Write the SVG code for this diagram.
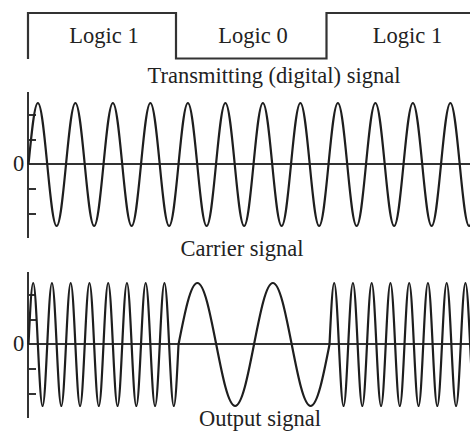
<svg xmlns="http://www.w3.org/2000/svg" width="470" height="434" viewBox="0 0 470 434">
<style>
.lbl{font-family:"Liberation Serif","Times New Roman",serif;font-size:22.5px;fill:#222;text-anchor:middle}
.wave{fill:none;stroke:#1e1e1e;stroke-width:2.2;stroke-linejoin:round}
.axis{fill:none;stroke:#333;stroke-width:2}
.tick{fill:none;stroke:#333;stroke-width:1.8}
.digital{fill:none;stroke:#333;stroke-width:2.2}
</style>
<rect width="470" height="434" fill="#fff"/>
<g id="digital-signal">
<path class="digital" d="M28,59 V13 H176 V58.5 H326.5 V13 H470"/>
<text class="lbl" x="104" y="43">Logic 1</text>
<text class="lbl" x="253" y="43">Logic 0</text>
<text class="lbl" x="407.5" y="43">Logic 1</text>
<text class="lbl" x="274" y="83">Transmitting (digital) signal</text>
</g>
<g id="carrier-signal">
<path class="axis" d="M28,92 V238 M28,164 H470"/>
<path class="tick" d="M28,115 H36 M28,140 H36 M28,189 H36 M28,214 H36"/>
<text class="lbl" x="18.5" y="171">0</text>
<path class="wave" d="M28.5,164.5 c3.058,-31.506 5.982,-61.5 9.375,-61.5 s6.317,29.994 9.375,61.5 s5.982,61.5 9.375,61.5 s6.317,-29.994 9.375,-61.5
s5.982,-61.5 9.375,-61.5 s6.317,29.994 9.375,61.5 s5.982,61.5 9.375,61.5 s6.317,-29.994 9.375,-61.5
s5.982,-61.5 9.375,-61.5 s6.317,29.994 9.375,61.5 s5.982,61.5 9.375,61.5 s6.317,-29.994 9.375,-61.5
s5.982,-61.5 9.375,-61.5 s6.317,29.994 9.375,61.5 s5.982,61.5 9.375,61.5 s6.317,-29.994 9.375,-61.5
s5.982,-61.5 9.375,-61.5 s6.317,29.994 9.375,61.5 s5.982,61.5 9.375,61.5 s6.317,-29.994 9.375,-61.5
s5.982,-61.5 9.375,-61.5 s6.317,29.994 9.375,61.5 s5.982,61.5 9.375,61.5 s6.317,-29.994 9.375,-61.5
s5.982,-61.5 9.375,-61.5 s6.317,29.994 9.375,61.5 s5.982,61.5 9.375,61.5 s6.317,-29.994 9.375,-61.5
s5.982,-61.5 9.375,-61.5 s6.317,29.994 9.375,61.5 s5.982,61.5 9.375,61.5 s6.317,-29.994 9.375,-61.5
s5.982,-61.5 9.375,-61.5 s6.317,29.994 9.375,61.5 s5.982,61.5 9.375,61.5 s6.317,-29.994 9.375,-61.5
s5.982,-61.5 9.375,-61.5 s6.317,29.994 9.375,61.5 s5.982,61.5 9.375,61.5 s6.317,-29.994 9.375,-61.5
s5.982,-61.5 9.375,-61.5 s6.317,29.994 9.375,61.5 s5.982,61.5 9.375,61.5 s6.317,-29.994 9.375,-61.5
s5.982,-61.5 9.375,-61.5 s6.317,29.994 9.375,61.5 s5.982,61.5 9.375,61.5 s6.317,-29.994 9.375,-61.5"/>
<text class="lbl" x="242" y="256">Carrier signal</text>
</g>
<g id="output-signal">
<path class="axis" d="M28,272 V418 M28,344 H470"/>
<path class="tick" d="M28,295 H36 M28,320 H36 M28,369 H36 M28,394 H36"/>
<text class="lbl" x="18.5" y="351">0</text>
<path class="wave" d="M28.5,344.5 c1.529,-31.506 2.991,-61.5 4.6875,-61.5 s3.159,29.994 4.6875,61.5 s2.991,61.5 4.6875,61.5 s3.159,-29.994 4.6875,-61.5
s2.991,-61.5 4.6875,-61.5 s3.159,29.994 4.6875,61.5 s2.991,61.5 4.6875,61.5 s3.159,-29.994 4.6875,-61.5
s2.991,-61.5 4.6875,-61.5 s3.159,29.994 4.6875,61.5 s2.991,61.5 4.6875,61.5 s3.159,-29.994 4.6875,-61.5
s2.991,-61.5 4.6875,-61.5 s3.159,29.994 4.6875,61.5 s2.991,61.5 4.6875,61.5 s3.159,-29.994 4.6875,-61.5
s2.991,-61.5 4.6875,-61.5 s3.159,29.994 4.6875,61.5 s2.991,61.5 4.6875,61.5 s3.159,-29.994 4.6875,-61.5
s2.991,-61.5 4.6875,-61.5 s3.159,29.994 4.6875,61.5 s2.991,61.5 4.6875,61.5 s3.159,-29.994 4.6875,-61.5
s2.991,-61.5 4.6875,-61.5 s3.159,29.994 4.6875,61.5 s2.991,61.5 4.6875,61.5 s3.159,-29.994 4.6875,-61.5
s2.991,-61.5 4.6875,-61.5 s3.159,29.994 4.6875,61.5 s2.991,61.5 4.6875,61.5 s3.159,-29.994 4.6875,-61.5
c6.156,-31.506 12.044,-61.5 18.875,-61.5 s12.719,29.994 18.875,61.5 s12.044,61.5 18.875,61.5 s12.719,-29.994 18.875,-61.5
s12.044,-61.5 18.875,-61.5 s12.719,29.994 18.875,61.5 s12.044,61.5 18.875,61.5 s12.719,-29.994 18.875,-61.5
c1.529,-31.506 2.991,-61.5 4.6875,-61.5 s3.159,29.994 4.6875,61.5 s2.991,61.5 4.6875,61.5 s3.159,-29.994 4.6875,-61.5
s2.991,-61.5 4.6875,-61.5 s3.159,29.994 4.6875,61.5 s2.991,61.5 4.6875,61.5 s3.159,-29.994 4.6875,-61.5
s2.991,-61.5 4.6875,-61.5 s3.159,29.994 4.6875,61.5 s2.991,61.5 4.6875,61.5 s3.159,-29.994 4.6875,-61.5
s2.991,-61.5 4.6875,-61.5 s3.159,29.994 4.6875,61.5 s2.991,61.5 4.6875,61.5 s3.159,-29.994 4.6875,-61.5
s2.991,-61.5 4.6875,-61.5 s3.159,29.994 4.6875,61.5 s2.991,61.5 4.6875,61.5 s3.159,-29.994 4.6875,-61.5
s2.991,-61.5 4.6875,-61.5 s3.159,29.994 4.6875,61.5 s2.991,61.5 4.6875,61.5 s3.159,-29.994 4.6875,-61.5
s2.991,-61.5 4.6875,-61.5 s3.159,29.994 4.6875,61.5 s2.991,61.5 4.6875,61.5 s3.159,-29.994 4.6875,-61.5
s2.991,-61.5 4.6875,-61.5 s3.159,29.994 4.6875,61.5 s2.991,61.5 4.6875,61.5 s3.159,-29.994 4.6875,-61.5"/>
<text class="lbl" x="260" y="426">Output signal</text>
</g>
</svg>
